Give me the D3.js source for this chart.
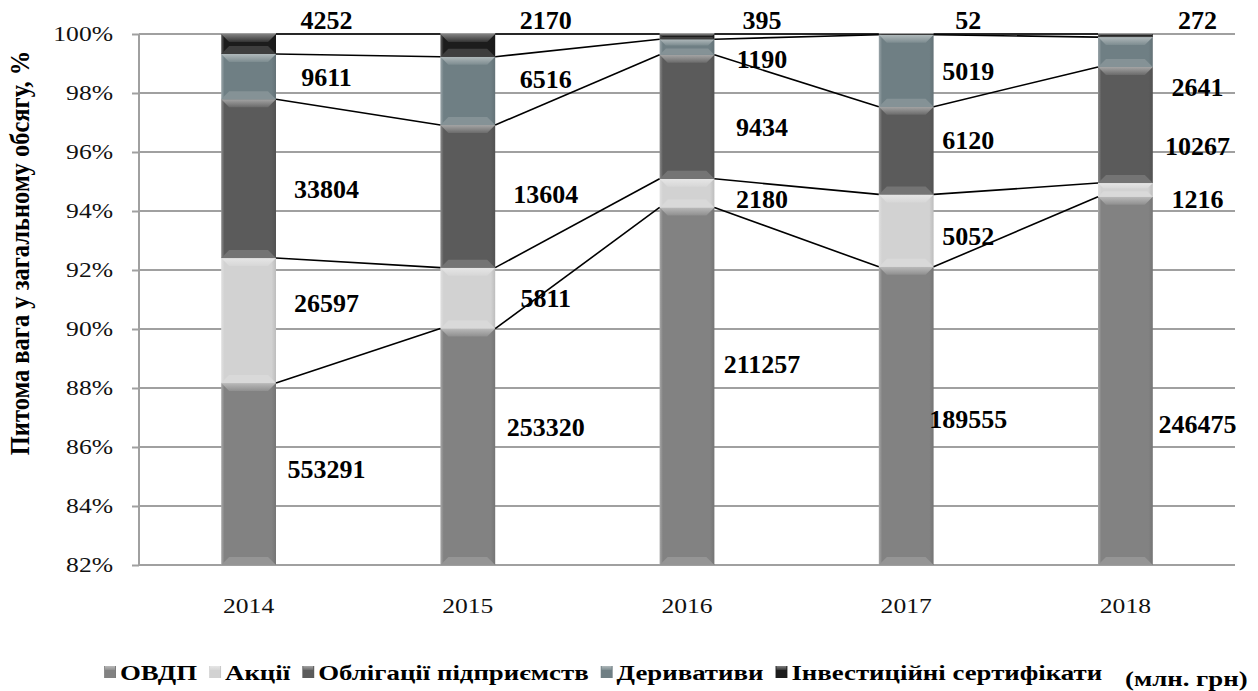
<!DOCTYPE html>
<html>
<head>
<meta charset="utf-8">
<script src="https://cdn.jsdelivr.net/npm/d3@7"></script>
<style>
  body { margin: 0; background: #fff; }
</style>
</head>
<body>
<svg id="chart" width="1258" height="691" font-family="'Liberation Serif', 'Times New Roman', Tinos, serif"></svg>
<script>
// data (млн. грн)
const years = ["2014", "2015", "2016", "2017", "2018"]
const seriesNames = ["ОВДП", "Акції", "Облігації підприємств", "Деривативи", "Інвестиційні сертифікати"]
const ovdp = [553291, 253320, 211257, 189555, 246475]
const shares = [26597, 5811, 2180, 5052, 1216]
const bonds = [33804, 13604, 9434, 6120, 10267]
const derivatives = [9611, 6516, 1190, 5019, 2641]
const certificates = [4252, 2170, 395, 52, 272]
const yTicks = [0.82, 0.84, 0.86, 0.88, 0.90, 0.92, 0.94, 0.96, 0.98, 1.00]

// look
const colors = ["#828282", "#d2d2d2", "#5b5b5b", "#6f7f84", "#1c1c1c"]
// hand-placed label nudges (px), one row per series, one column per year
const labelDy = [
  [-5, -20, -22, 3, 43],
  [-18, 0, 6, 5, 9],
  [10, -2, 10, -11, 21],
  [0, -12, 12, 0, 35]
]
const labelDx = [78, 78, 75, 62, 72]
const stretch = 1.22   // the source picture is a bit wider than tall

const svg = d3.select("#chart")
const margin = {left: 139, right: 1235, top: 34, bottom: 565}

const table = years.map((y, i) => ({
  year: y,
  [seriesNames[0]]: ovdp[i],
  [seriesNames[1]]: shares[i],
  [seriesNames[2]]: bonds[i],
  [seriesNames[3]]: derivatives[i],
  [seriesNames[4]]: certificates[i]
}))

const stacked = d3.stack()
  .keys(seriesNames)
  .offset(d3.stackOffsetExpand)(table)

const x = d3.scaleBand()
  .domain(years)
  .range([margin.left, margin.right])
  .paddingInner(0.75)
  .paddingOuter(0.375)

const y = d3.scaleLinear()
  .domain([0.82, 1])
  .range([margin.bottom, margin.top])

const defs = svg.append("defs")
defs.append("clipPath").attr("id", "plotclip")
  .append("rect")
  .attr("x", margin.left).attr("y", margin.top - 1)
  .attr("width", margin.right - margin.left)
  .attr("height", margin.bottom - margin.top + 1)

colors.forEach((c, i) => {
  const g = defs.append("linearGradient").attr("id", "grad" + i)
    .attr("x1", 0).attr("x2", 1).attr("y1", 0).attr("y2", 0)
  const light = d3.interpolateRgb(c, "#fff")(0.3)
  const dark = d3.interpolateRgb(c, "#000")(0.1)
  g.append("stop").attr("offset", 0).attr("stop-color", light)
  g.append("stop").attr("offset", 0.06).attr("stop-color", c)
  g.append("stop").attr("offset", 0.92).attr("stop-color", c)
  g.append("stop").attr("offset", 1).attr("stop-color", dark)
  // top bevel, fades downwards
  const t = defs.append("linearGradient").attr("id", "top" + i)
    .attr("x1", 0).attr("x2", 0).attr("y1", 0).attr("y2", 1)
  t.append("stop").attr("offset", 0).attr("stop-color", d3.interpolateRgb(c, "#fff")(0.45))
  t.append("stop").attr("offset", 1).attr("stop-color", d3.interpolateRgb(c, "#fff")(0.1))
})

// grid + axis
const yAxis = d3.axisLeft(y)
  .tickValues(yTicks)
  .tickFormat(d3.format(".0%"))
  .tickSize(7)
  .tickPadding(8)

const gy = svg.append("g")
  .attr("transform", `translate(${margin.left},0)`)
  .call(yAxis)
  .attr("font-family", null)
gy.select(".domain").attr("stroke", "#a0a0a0").attr("stroke-width", 2)
  .attr("d", `M0,${margin.top}V${margin.bottom}`)
gy.selectAll(".tick line").attr("stroke", "#a0a0a0").attr("stroke-width", 2)
gy.selectAll(".tick text")
  .attr("font-size", 21)
  .attr("fill", "#111")
  .attr("transform", `scale(${stretch},1)`)
  .attr("x", -26 / stretch)
  .attr("text-anchor", "end")

svg.append("g").selectAll("line")
  .data(yTicks)
  .join("line")
  .attr("x1", margin.left).attr("x2", margin.right)
  .attr("y1", d => y(d)).attr("y2", d => y(d))
  .attr("stroke", "#a0a0a0")
  .attr("stroke-width", 2)

// bars
const plot = svg.append("g").attr("clip-path", "url(#plotclip)")
const bw = x.bandwidth()

stacked.forEach((layer, k) => {
  const c = colors[k]
  const botC = d3.interpolateRgb(c, "#fff")(0.15)
  layer.forEach((d, i) => {
    const x0 = x(years[i])
    const yTop = y(d[1])
    const yBot = y(Math.max(d[0], 0.82))
    const h = yBot - yTop
    if (h <= 0) return
    const g = plot.append("g")
    g.append("rect")
      .attr("x", x0).attr("y", yTop)
      .attr("width", bw).attr("height", h)
      .attr("fill", `url(#grad${k})`)
    const b = Math.min(8, h / 2.5)
    g.append("polygon")
      .attr("points", [[x0, yTop], [x0 + bw, yTop], [x0 + bw - b, yTop + b], [x0 + b, yTop + b]].join(" "))
      .attr("fill", `url(#top${k})`)
    g.append("polygon")
      .attr("points", [[x0, yBot], [x0 + bw, yBot], [x0 + bw - b, yBot - b], [x0 + b, yBot - b]].join(" "))
      .attr("fill", botC)
  })
})

// series lines between bars
stacked.forEach(layer => {
  for (let i = 0; i < years.length - 1; i++) {
    svg.append("line")
      .attr("x1", x(years[i]) + bw)
      .attr("y1", y(layer[i][1]))
      .attr("x2", x(years[i + 1]))
      .attr("y2", y(layer[i + 1][1]))
      .attr("stroke", "#000")
      .attr("stroke-width", 1.6)
  }
})

// value labels
stacked.forEach((layer, k) => {
  layer.forEach((d, i) => {
    const cx = x(years[i]) + bw / 2 + labelDx[i]
    let cy
    if (k === seriesNames.length - 1) {
      cy = margin.top - 14
    } else {
      cy = y((Math.max(d[0], 0.82) + d[1]) / 2) + labelDy[k][i]
    }
    svg.append("text")
      .attr("x", cx).attr("y", cy)
      .attr("dy", "0.35em")
      .attr("text-anchor", "middle")
      .attr("font-size", 26)
      .attr("font-weight", "bold")
      .text(d.data[seriesNames[k]])
  })
})

// x labels
svg.append("g").selectAll("text")
  .data(years)
  .join("text")
  .attr("transform", d => `translate(${x(d) + bw / 2},${613}) scale(${stretch},1)`)
  .attr("text-anchor", "middle")
  .attr("font-size", 21)
  .attr("fill", "#111")
  .text(d => d)

// y title
svg.append("text")
  .attr("transform", `translate(29,253) scale(1.12,1) rotate(-90)`)
  .attr("text-anchor", "middle")
  .attr("font-size", 24.5)
  .attr("font-weight", "bold")
  .text("Питома вага у загальному обсягу, %")

// legend
const legend = svg.append("g").attr("transform", "translate(104,680)")
let lx = 0
seriesNames.forEach((name, k) => {
  legend.append("rect")
    .attr("x", lx).attr("y", -14)
    .attr("width", 12).attr("height", 12)
    .attr("fill", `url(#grad${k})`)
  legend.append("rect")
    .attr("x", lx + 1).attr("y", -14)
    .attr("width", 10).attr("height", 4)
    .attr("fill", `url(#top${k})`)
  const t = legend.append("text")
    .attr("transform", `translate(${lx + 16},0) scale(${stretch},1)`)
    .attr("font-size", 22)
    .attr("font-weight", "bold")
    .text(name)
  lx += 16 + t.node().getComputedTextLength() * stretch + 12
})

svg.append("text")
  .attr("transform", `translate(1125,686) scale(${stretch},1)`)
  .attr("font-size", 22)
  .attr("font-weight", "bold")
  .text("(млн. грн)")
</script>
</body>
</html>
